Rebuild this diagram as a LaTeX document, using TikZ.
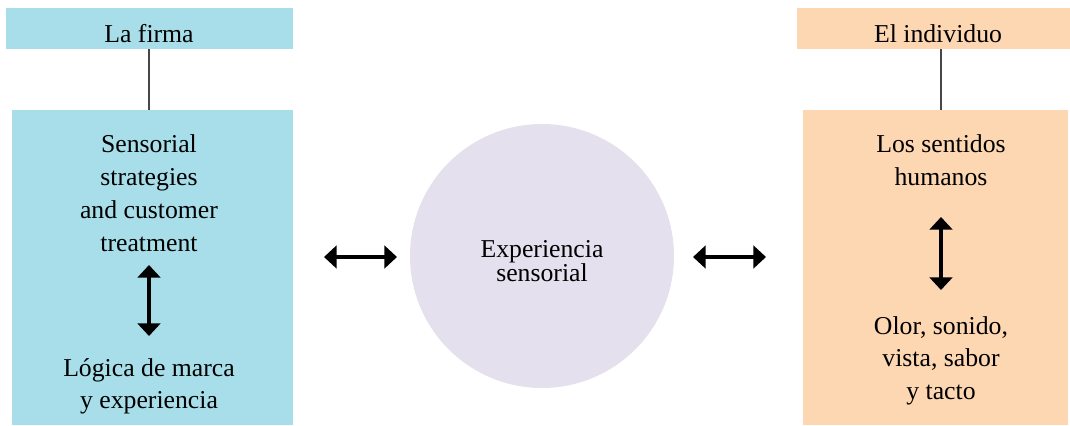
\documentclass[tikz,border=0pt]{standalone}
\usepackage{fontspec}
\setmainfont{Liberation Serif}
\usetikzlibrary{arrows.meta}
\definecolor{firmblue}{RGB}{167,222,233}
\definecolor{indorange}{RGB}{253,214,178}
\definecolor{lavender}{RGB}{229,224,237}
\definecolor{linkgray}{RGB}{70,70,70}
\tikzset{
  txt/.style={anchor=base, align=center, inner sep=0pt, font=\fontsize{19.3}{24.75}\selectfont},
  dbl/.style={line width=2.3pt, {Triangle[length=9.5pt,width=17pt]}-{Triangle[length=9.5pt,width=17pt]}},
  link/.style={draw=linkgray, line width=0.8pt},
}
\begin{document}
\begin{tikzpicture}[x=0.75pt,y=-0.75pt]
\useasboundingbox (0,0) rectangle (1070,425);
% left side
\fill[firmblue] (6,8) rectangle (293,49);
\node[coordinate] (firmtop) at (149,49) {};
\node[txt] (firma) at (149,42) {La firma};
\fill[firmblue] (12,110) rectangle (293,425);
\node[coordinate] (firmbox) at (149,110) {};
\draw[link] (firmtop) -- (firmbox);
\node[txt] (strat) at (149,251) {Sensorial\\strategies\\and customer\\treatment};
\node[txt, font=\fontsize{19.3}{23.5}\selectfont] (logica) at (149,408) {Lógica de marca\\y experiencia};
\coordinate (la1) at (149,265);
\coordinate (la2) at (149,336);
\draw[dbl] (la1) -- (la2);
% right side
\fill[indorange] (797,8) rectangle (1070,49);
\node[coordinate] (indtop) at (941,49) {};
\node[txt] (indiv) at (938,42) {El individuo};
\fill[indorange] (803,110) rectangle (1068,425);
\node[coordinate] (indbox) at (941,110) {};
\draw[link] (indtop) -- (indbox);
\node[txt] (sentidos) at (941,185) {Los sentidos\\humanos};
\node[txt, font=\fontsize{19.3}{24.3}\selectfont] (olor) at (941,399) {Olor, sonido,\\vista, sabor\\y tacto};
\coordinate (ra1) at (941,217);
\coordinate (ra2) at (941,290);
\draw[dbl] (ra1) -- (ra2);
% centre
\node[circle, fill=lavender, minimum size=264*0.75pt, inner sep=0pt] (exp) at (542,256) {};
\node[txt, font=\fontsize{19.3}{18}\selectfont] (exptxt) at (542,281) {Experiencia\\sensorial};
\coordinate (ha1) at (324,257);
\coordinate (ha2) at (397,257);
\coordinate (hb1) at (693,257);
\coordinate (hb2) at (766,257);
\draw[dbl] (ha1) -- (ha2);
\draw[dbl] (hb1) -- (hb2);
\end{tikzpicture}
\end{document}
